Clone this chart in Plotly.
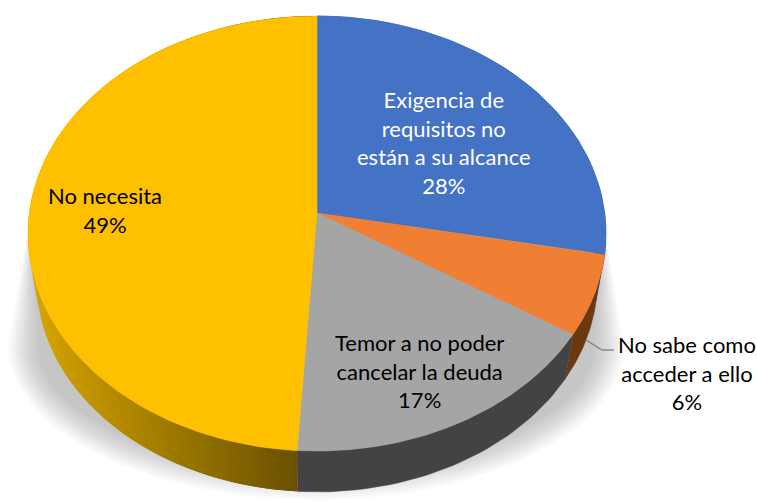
import numpy as np
import plotly.graph_objects as go

# slices go clockwise from 12 o'clock
categories = ["Exigencia de<br>requisitos no<br>están a su alcance", "No sabe como<br>acceder a ello",
              "Temor a no poder<br>cancelar la deuda", "No necesita"]
values = [28, 6, 17, 49]
top_colors = ["#4472C4", "#F07F33", "#A5A5A5", "#FFC000"]
side_colors = ["#2A4A80", "#6B3812", "#434343", None]
label_colors = ["white", "black", "black", "black"]
label_x = [444, 687, 419, 105]
label_y = [142, 373, 371, 210]

# pixel geometry of the tilted disc
APEX_X, APEX_Y = 317, 213
A, B, K = 287.7, 215.6, 0.0943
DEPTH, SHRINK = 48, 0.97


def rim(theta, lower=False):
    u, v = np.sin(theta), np.cos(theta)
    d = 1 + K * v
    x, y = A * u / d, -B * v / d
    if lower:
        return APEX_X + SHRINK * x, APEX_Y + DEPTH + SHRINK * y
    return APEX_X + x, APEX_Y + y


def poly(x, y, color, edge=0.5):
    return go.Scatter(x=list(x), y=list(y), mode="lines", fill="toself", fillcolor=color,
                      line=dict(color=color, width=edge), hoverinfo="skip", showlegend=False)


def mix(c1, c2, t):
    return "rgb(%d,%d,%d)" % tuple(round(a + (b - a) * t) for a, b in zip(c1, c2))


fig = go.Figure()

# soft shadow under the disc, stacked translucent layers
s = np.linspace(np.pi, 2 * np.pi, 90)
for grow in range(-30, 1, 2):
    sx = 316 + (308 + grow) * np.cos(s)
    sy = 345 - (155 + grow) * np.sin(s)
    sx = np.r_[32, sx, 601]
    sy = np.r_[205, sy, 205]
    fig.add_trace(poly(sx, sy, "rgba(120,120,120,0.029)", edge=0))

# side wall
bounds = 2 * np.pi * np.cumsum([0] + values) / sum(values)
for i, val in enumerate(values):
    t0, t1 = bounds[i], bounds[i + 1]
    if side_colors[i]:
        t = np.linspace(t0, t1, 40)
        x0, y0 = rim(t)
        x1, y1 = rim(t[::-1], lower=True)
        fig.add_trace(poly(np.r_[x0, x1], np.r_[y0, y1], side_colors[i]))
    else:
        # yellow wall darkens towards the front, strips overlap to hide seams
        edges = np.linspace(t0, t1, 161)
        step = edges[1] - edges[0]
        for a in edges[:-1]:
            t = np.array([a, min(a + 2 * step, t1)])
            x0, y0 = rim(t)
            x1, y1 = rim(t[::-1], lower=True)
            f = min(max((x0.mean() - 37) / (296 - 37), 0), 1)
            fig.add_trace(poly(np.r_[x0, x1], np.r_[y0, y1], mix((211, 162, 0), (104, 80, 0), f), edge=0))

# top face
for i, val in enumerate(values):
    t = np.linspace(bounds[i], bounds[i + 1], 120)
    x, y = rim(t)
    fig.add_trace(poly(np.r_[APEX_X, x, APEX_X], np.r_[APEX_Y, y, APEX_Y], top_colors[i]))

# labels
for i, val in enumerate(values):
    fig.add_annotation(x=label_x[i], y=label_y[i], text=f"{categories[i]}<br>{val}%", showarrow=False,
                       font=dict(family="Lato", size=22, color=label_colors[i]), align="center")

fig.add_shape(type="line", x0=586, y0=340, x1=602, y1=350, line=dict(color="#7F7F7F", width=1.3))
fig.add_shape(type="line", x0=602, y0=350, x1=614, y1=350, line=dict(color="#7F7F7F", width=1.3))

fig.update_layout(
    width=757, height=502, margin=dict(l=0, r=0, t=0, b=0),
    paper_bgcolor="white", plot_bgcolor="white", showlegend=False,
    xaxis=dict(range=[0, 757], visible=False, fixedrange=True),
    yaxis=dict(range=[502, 0], visible=False, fixedrange=True),
)
fig.write_html("out.html", config=dict(displayModeBar=False),
               post_script="document.body.style.margin='0';")
